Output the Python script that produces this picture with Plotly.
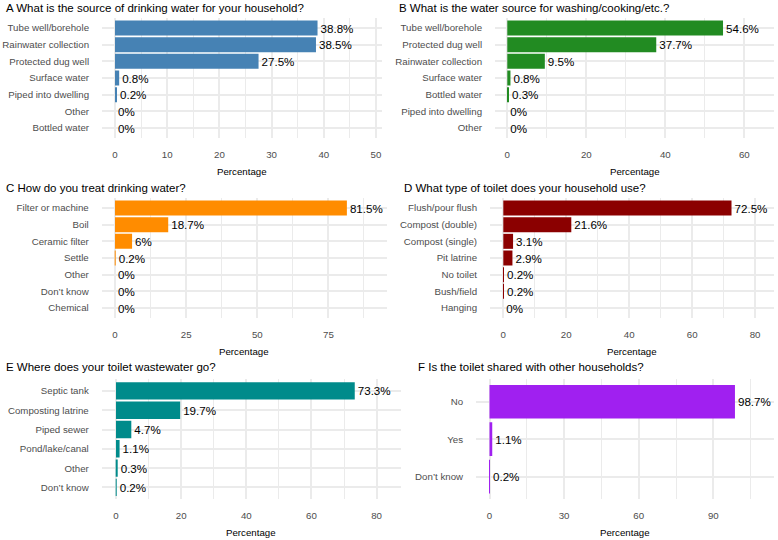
import plotly.graph_objects as go

W, H = 778, 540

# ---- data ----
a_cats = ["Tube well/borehole", "Rainwater collection", "Protected dug well", "Surface water",
          "Piped into dwelling", "Other", "Bottled water"]
a_vals = [38.8, 38.5, 27.5, 0.8, 0.2, 0, 0]

b_cats = ["Tube well/borehole", "Protected dug well", "Rainwater collection", "Surface water",
          "Bottled water", "Piped into dwelling", "Other"]
b_vals = [54.6, 37.7, 9.5, 0.8, 0.3, 0, 0]

c_cats = ["Filter or machine", "Boil", "Ceramic filter", "Settle", "Other", "Don’t know", "Chemical"]
c_vals = [81.5, 18.7, 6, 0.2, 0, 0, 0]

d_cats = ["Flush/pour flush", "Compost (double)", "Compost (single)", "Pit latrine", "No toilet",
          "Bush/field", "Hanging"]
d_vals = [72.5, 21.6, 3.1, 2.9, 0.2, 0.2, 0]

e_cats = ["Septic tank", "Composting latrine", "Piped sewer", "Pond/lake/canal", "Other", "Don’t know"]
e_vals = [73.3, 19.7, 4.7, 1.1, 0.3, 0.2]

f_cats = ["No", "Yes", "Don’t know"]
f_vals = [98.7, 1.1, 0.2]

titles = ["A What is the source of drinking water for your household?",
          "B What is the water source for washing/cooking/etc.?",
          "C How do you treat drinking water?",
          "D What type of toilet does your household use?",
          "E Where does your toilet wastewater go?",
          "F Is the toilet shared with other households?"]

# ---- layout specs (pixel geometry) ----
panels = [
    # cats, vals, color, x px [l, r], y px [top, bottom], x range, major dtick, minor dtick, title x px, title y px
    (a_cats, a_vals, "#4682B4", (102, 382), (18, 138), (-2.49, 51.15), 10, 5, 4, 8),
    (b_cats, b_vals, "#228B22", (495, 774), (18, 138), (-3.11, 67.5), 20, 10, 396.5, 8),
    (c_cats, c_vals, "#FF8C00", (101.7, 387), (198, 318), (-4.68, 95.6), 25, 12.5, 4, 187.5),
    (d_cats, d_vals, "#8B0000", (490, 774), (198, 318), (-4.23, 86.0), 20, 10, 401.5, 187.5),
    (e_cats, e_vals, "#008B8B", (101.7, 401), (379.3, 499), (-4.39, 87.5), 20, 10, 4, 367),
    (f_cats, f_vals, "#A020F0", (476, 774), (379.3, 499), (-5.43, 114.4), 30, 15, 416, 367),
]

FONT = "Liberation Sans, Arial, sans-serif"
GRID = "#EBEBEB"
TICKC = "#4D4D4D"

fig = go.Figure()
annotations = []
layout = {}

for i, (cats, vals, col, xpx, ypx, xr, dt, mdt, tx, ty) in enumerate(panels):
    k = "" if i == 0 else str(i + 1)
    xa, ya = "x" + k, "y" + k
    fig.add_trace(go.Bar(
        y=cats, x=vals, orientation="h", width=0.9,
        marker=dict(color=col, line=dict(width=0)),
        text=[f"{v:g}%" for v in vals], textposition="outside",
        textfont=dict(family=FONT, size=11.6, color="#000000"),
        constraintext="none", cliponaxis=False,
        xaxis=xa, yaxis=ya, showlegend=False, hoverinfo="skip",
    ))
    xd = [xpx[0] / W, xpx[1] / W]
    yd = [1 - ypx[1] / H, 1 - ypx[0] / H]
    n = len(cats)
    layout["xaxis" + k] = dict(
        domain=xd, anchor=ya, range=list(xr), dtick=dt, tick0=0,
        showgrid=True, gridcolor=GRID, gridwidth=2, zeroline=False, showline=False,
        ticks="outside", ticklen=7, tickcolor="rgba(0,0,0,0)",
        tickfont=dict(family=FONT, size=9.7, color=TICKC),
        minor=dict(dtick=mdt, tick0=0, showgrid=True, gridcolor=GRID, gridwidth=1),
    )
    layout["yaxis" + k] = dict(
        domain=yd, anchor=xa, type="category", categoryorder="array", categoryarray=cats,
        range=[n - 1 + 0.6, -0.6],
        showgrid=True, gridcolor=GRID, gridwidth=2, zeroline=False, showline=False,
        ticks="outside", ticklen=10, tickcolor="rgba(0,0,0,0)",
        tickfont=dict(family=FONT, size=9.7, color=TICKC),
    )
    annotations.append(dict(
        text=titles[i], x=tx / W, y=1 - ty / H, xref="paper", yref="paper",
        xanchor="left", yanchor="middle", showarrow=False,
        font=dict(family=FONT, size=11.5, color="#000000"),
    ))
    annotations.append(dict(
        text="Percentage", x=(xpx[0] + xpx[1]) / 2 / W, y=1 - (ypx[1] + 33.5) / H,
        xref="paper", yref="paper", xanchor="center", yanchor="middle", showarrow=False,
        font=dict(family=FONT, size=9.7, color="#000000"),
    ))

fig.update_layout(
    width=W, height=H, margin=dict(l=0, r=0, t=0, b=0),
    paper_bgcolor="white", plot_bgcolor="white",
    annotations=annotations, bargap=0.1, **layout,
)

fig.write_html("out.html")
